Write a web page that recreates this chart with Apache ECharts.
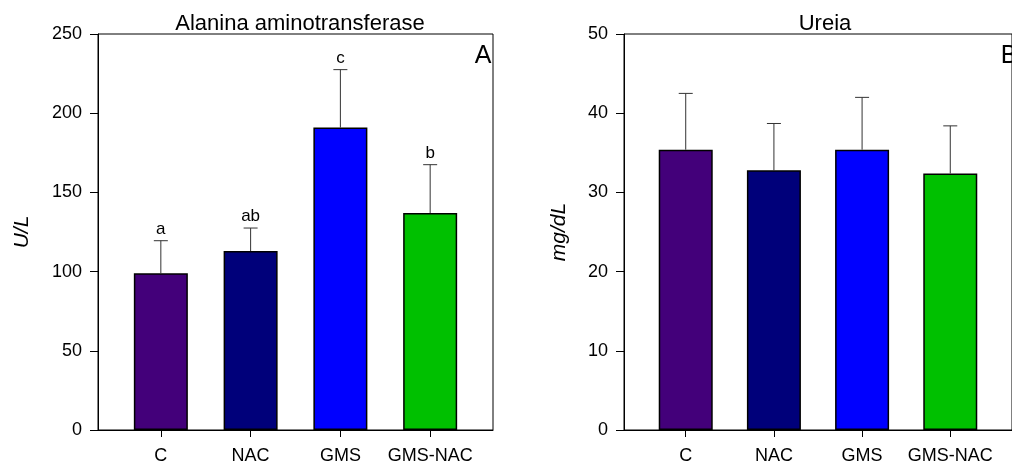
<!DOCTYPE html>
<html>
<head>
<meta charset="utf-8">
<script src="https://cdn.jsdelivr.net/npm/echarts@6/dist/echarts.min.js"></script>
<style>
html,body{margin:0;padding:0;background:#fff;}
#c{width:1012px;height:468px;}
</style>
</head>
<body>
<div id="c"></div>
<script>
const categories = ['C', 'NAC', 'GMS', 'GMS-NAC'];
const colors = ['#43007a', '#00007a', '#0000ff', '#00c000'];
const altMean = [99, 113, 191, 137];
const altSD = [20.5, 14.5, 36.5, 30.5];
const altLetters = ['a', 'ab', 'c', 'b'];
const ureaMean = [35.4, 32.8, 35.4, 32.4];
const ureaSD = [7.1, 5.9, 6.6, 6.0];
const altTicks = [0, 50, 100, 150, 200, 250];
const ureaTicks = [0, 10, 20, 30, 40, 50];

const FONT = 'Liberation Sans, Arial, sans-serif';
const chart = echarts.init(document.getElementById('c'), null, {renderer: 'canvas'});

function barData(means) {
  return means.map((v, i) => ({value: [i, v], itemStyle: {color: colors[i]}}));
}
function errData(means, sds, letters) {
  return means.map((v, i) => [i, v, v + sds[i], letters ? letters[i] : '']);
}
function errRender(params, api) {
  const x = api.value(0);
  const top = api.coord([x, api.value(2)]);
  const base = api.coord([x, api.value(1)]);
  const label = api.value(3);
  const children = [
    {type: 'line', shape: {x1: top[0], y1: base[1], x2: top[0], y2: top[1]}, style: {stroke: '#333', lineWidth: 1}},
    {type: 'line', shape: {x1: top[0] - 7, y1: top[1], x2: top[0] + 7, y2: top[1]}, style: {stroke: '#333', lineWidth: 1}}
  ];
  if (label) {
    children.push({type: 'text', style: {text: label, x: top[0], y: top[1] - 3, textAlign: 'center', textVerticalAlign: 'bottom', font: '17px ' + FONT, fill: '#000'}});
  }
  return {type: 'group', children: children};
}
function xAxis(gi) {
  return {
    type: 'value', gridIndex: gi, min: -0.7, max: 3.7,
    axisLine: {show: true, onZero: false, lineStyle: {color: '#000', width: 1}},
    axisTick: {show: true, inside: false, length: 7, customValues: [0, 1, 2, 3], lineStyle: {color: '#000'}},
    axisLabel: {show: true, customValues: [0, 1, 2, 3], margin: 17, fontSize: 18, fontFamily: FONT, color: '#000',
      formatter: v => categories[Math.round(v)] || ''},
    splitLine: {show: false}
  };
}
function yAxis(gi, interval, name, gap, ticks) {
  return {
    type: 'value', gridIndex: gi, min: ticks[0], max: ticks[ticks.length - 1], interval: interval,
    name: name, nameLocation: 'middle', nameRotate: 90, nameGap: gap,
    nameTextStyle: {fontSize: 21, fontStyle: 'italic', fontFamily: FONT, color: '#000'},
    axisLine: {show: true, onZero: false, lineStyle: {color: '#000', width: 1}},
    axisTick: {show: true, inside: false, length: 8, lineStyle: {color: '#000'}},
    axisLabel: {margin: 16, fontSize: 18, fontFamily: FONT, color: '#000'},
    splitLine: {show: false}
  };
}

chart.setOption({
  animation: false,
  backgroundColor: '#fff',
  title: [
    {text: 'Alanina aminotransferase', left: 295, top: 8, textAlign: 'center',
      textStyle: {fontSize: 22, fontWeight: 'normal', fontFamily: FONT, color: '#000'}},
    {text: 'Ureia', left: 820, top: 8, textAlign: 'center',
      textStyle: {fontSize: 22, fontWeight: 'normal', fontFamily: FONT, color: '#000'}},
    {text: 'A', left: 478, top: 39, textAlign: 'center',
      textStyle: {fontSize: 25, fontWeight: 'normal', fontFamily: FONT, color: '#000'}},
    {text: 'B', left: 1004, top: 39, textAlign: 'center',
      textStyle: {fontSize: 25, fontWeight: 'normal', fontFamily: FONT, color: '#000'}}
  ],
  grid: [
    {left: 98, top: 34, width: 395, height: 396, show: true, borderColor: '#000', borderWidth: 1, backgroundColor: 'transparent'},
    {left: 624, top: 34, width: 395, height: 396, show: true, borderColor: '#000', borderWidth: 1, backgroundColor: 'transparent'}
  ],
  xAxis: [xAxis(0), xAxis(1)],
  yAxis: [
    yAxis(0, 50, 'U/L', 65, altTicks),
    yAxis(1, 10, 'mg/dL', 54, ureaTicks)
  ],
  series: [
    {type: 'bar', xAxisIndex: 0, yAxisIndex: 0, barWidth: 54, data: barData(altMean),
      itemStyle: {borderColor: '#000', borderWidth: 1.5}},
    {type: 'custom', xAxisIndex: 0, yAxisIndex: 0, renderItem: errRender, data: errData(altMean, altSD, altLetters), z: 1},
    {type: 'bar', xAxisIndex: 1, yAxisIndex: 1, barWidth: 54, data: barData(ureaMean),
      itemStyle: {borderColor: '#000', borderWidth: 1.5}},
    {type: 'custom', xAxisIndex: 1, yAxisIndex: 1, renderItem: errRender, data: errData(ureaMean, ureaSD, null), z: 1}
  ]
});
</script>
</body>
</html>
